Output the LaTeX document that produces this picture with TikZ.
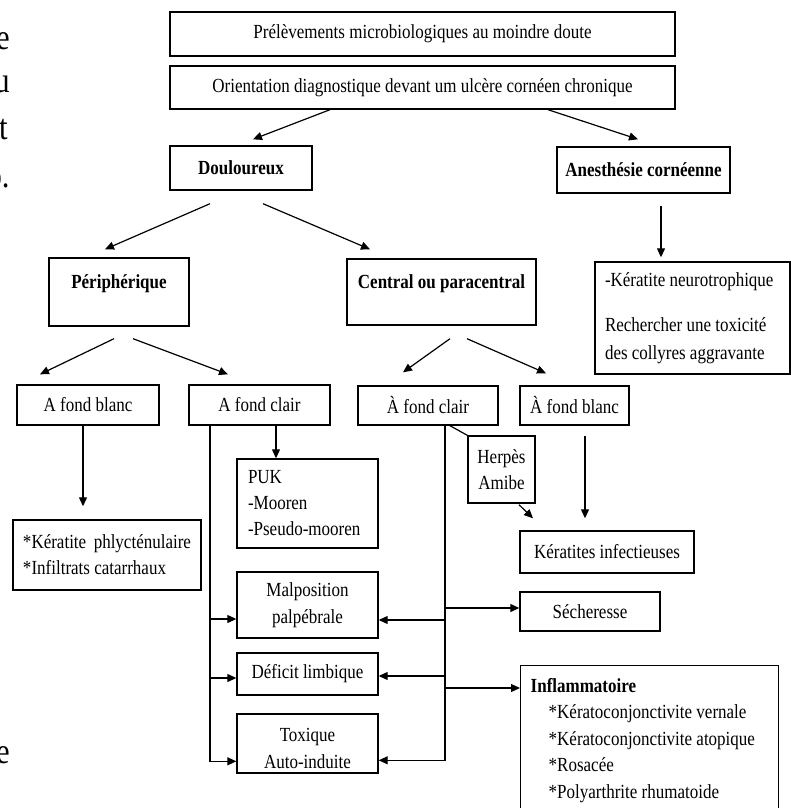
\documentclass[tikz,border=0pt]{standalone}
\usepackage{fontspec}
\setmainfont{Liberation Serif}[FakeStretch=0.85]
\usetikzlibrary{arrows.meta,calc}

\begin{document}
\begin{tikzpicture}[
  x=0.5pt, y=-0.5pt,
  font=\fontsize{10}{13}\selectfont,
  box/.style={draw, line width=0.7pt, inner sep=0pt, align=center},
  hbox/.style={box, font=\fontsize{10}{13}\selectfont\bfseries},
  lbox/.style={draw, line width=0.7pt, inner xsep=5pt, inner ysep=0pt, align=flush left},
  arr/.style={line width=0.6pt, -{Triangle[length=4.5pt, width=4pt]}},
  link/.style={line width=0.6pt},
  frag/.style={anchor=base east, inner sep=0pt, font=\fontsize{18}{20}\selectfont}
]
\useasboundingbox (0,0) rectangle (791,808);

% cut-off body text on the left
\node[frag] (fe) at (10,50) {e};
\node[frag] (fu) at (10,93) {u};
\node[frag] (ft) at (8,140) {t};
\node[frag] (fo) at (10,187) {o.};
\node[frag] (fe2) at (10,763) {e};

% top
\node[box, minimum width=252.5pt, minimum height=22pt] (prel) at (422.5,34) {Prélèvements microbiologiques au moindre doute};
\node[box, minimum width=252.5pt, minimum height=21.5pt] (orient) at (422.5,87.5) {Orientation diagnostique devant um ulcère cornéen chronique};
\node[hbox, minimum width=71pt, minimum height=22pt] (doul) at (241,168) {Douloureux};
\node[hbox, minimum width=86.5pt, minimum height=23pt] (anest) at (643.5,170) {Anesthésie cornéenne};
\node[lbox, inner xsep=5pt, text width=87.5pt, minimum height=56pt, font=\fontsize{10}{14}\selectfont] (neuro) at (692.5,318)
  {-Kératite neurotrophique\\[8.5pt]Rechercher une toxicité\\des collyres aggravante};

% second level
\node[hbox, minimum width=70pt, text height=15pt, text depth=19pt] (periph) at (119,292) {Périphérique};
\node[hbox, minimum width=94.5pt, text height=14.5pt, text depth=18.5pt] (central) at (441.5,292) {Central ou paracentral};

\node[box, minimum width=71pt, minimum height=20pt] (fbl) at (88,405) {A fond blanc};
\node[box, minimum width=70.5pt, minimum height=20pt] (fcl) at (259.5,405) {A fond clair};
\node[box, minimum width=70pt, minimum height=19.5pt] (fcl2) at (428,405.5) {À fond clair};
\node[box, minimum width=54.5pt, minimum height=19.5pt] (fbl2) at (574.5,405.5) {À fond blanc};

% causes
\node[lbox, inner xsep=5pt, text width=84pt, minimum height=35pt] (phlyc) at (107,555) {*Kératite\ \ phlycténulaire\\{}*Infiltrats catarrhaux};
\node[lbox, inner xsep=5.5pt, text width=59.5pt, minimum height=44.5pt] (puk) at (307.5,503.5) {PUK\\-Mooren\\-Pseudo-mooren};
\node[box, minimum width=33.5pt, minimum height=33.5pt] (herpes) at (501.5,469.5) {Herpès\\Amibe};
\node[box, minimum width=87pt, minimum height=21pt] (infect) at (607,552) {Kératites infectieuses};
\node[box, minimum width=70.5pt, minimum height=33pt, font=\fontsize{10}{13.5}\selectfont] (malpos) at (307.5,605) {Malposition\\palpébrale};
\node[box, minimum width=70.5pt, minimum height=21pt] (deficit) at (307.5,674) {Déficit limbique};
\node[box, minimum width=70.5pt, text height=27.3pt, text depth=2.2pt, font=\fontsize{10}{13.5}\selectfont] (toxique) at (307.5,743.5) {Toxique\\Auto-induite};
\node[box, minimum width=70pt, minimum height=19.5pt] (sech) at (590,611.5) {Sécheresse};
\node[lbox, anchor=north west, text width=119pt, text height=13.3pt, text depth=78pt, font=\fontsize{10}{13.25}\selectfont] (inflam) at (520,665)
  {\textbf{Inflammatoire}\\
   \hspace*{9pt}*Kératoconjonctivite vernale\\
   \hspace*{9pt}*Kératoconjonctivite atopique\\
   \hspace*{9pt}*Rosacée\\
   \hspace*{9pt}*Polyarthrite rhumatoide};

% arrows of the tree
\draw[arr] ($(orient.south)+(-92.5,0)$) -- ($(doul.north)+(12,-6)$);
\draw[arr] ($(orient.south)+(125.5,0)$) -- ($(anest.north)+(-5.5,-7)$);
\draw[arr] ($(anest.south)+(17.5,12)$) -- ($(neuro.north)+(-31.5,-4)$);
\draw[arr] ($(doul.south)+(-31,13)$) -- ($(periph.north)+(-14,-8)$);
\draw[arr] ($(doul.south)+(22,13)$) -- ($(central.north)+(-71.5,-9)$);
\draw[arr] ($(periph.south)+(-5,12)$) -- ($(fbl.north)+(-48,-10)$);
\draw[arr] ($(periph.south)+(14,12)$) -- ($(fcl.north)+(-31.5,-10)$);
\draw[arr] ($(central.south)+(8.5,13)$) -- ($(fcl2.north)+(-25,-13)$);
\draw[arr] ($(central.south)+(25.5,13)$) -- ($(fbl2.north)+(-28.5,-12)$);
\draw[arr] ($(fbl.south)+(-5,0)$) -- ($(phlyc.north)+(-24,-13)$);
\draw[arr] ($(fcl.south)+(16.5,0)$) -- ($(puk.north)+(-31.5,0)$);

% herpes / infectious
\draw[link] ($(fcl2.south)+(22,0)$) -- (herpes.north west);
\draw[arr] ($(herpes.south)+(17.5,1)$) -- ($(infect.north)+(-74,-12)$);
\draw[arr] ($(fbl2.south)+(10.5,10)$) -- ($(infect.north)+(-22,-12)$);

% trunks
\coordinate (ltop) at ($(fcl.south)+(-49.5,0)$);
\coordinate (rtop) at ($(fcl2.south)+(17,0)$);
\coordinate (mpL) at ($(malpos.west)+(0,14)$);
\coordinate (dfL) at ($(deficit.west)+(0,4)$);
\coordinate (txL) at ($(toxique.north west)+(0,48)$);
\coordinate (mpR) at ($(malpos.east)+(0,15)$);
\coordinate (dfR) at ($(deficit.east)+(0,2)$);
\coordinate (txR) at ($(toxique.north east)+(0,47)$);
\coordinate (scW) at ($(sech.west)+(0,-3.5)$);
\coordinate (ifW) at ($(inflam.north west)+(0,23)$);

\draw[arr] (ltop) |- (txL);
\draw[arr] (ltop |- mpL) -- (mpL);
\draw[arr] (ltop |- dfL) -- (dfL);
\draw[arr] (rtop) |- (txR);
\draw[arr] (rtop |- mpR) -- (mpR);
\draw[arr] (rtop |- dfR) -- (dfR);
\draw[arr] (rtop |- scW) -- (scW);
\draw[arr] (rtop |- ifW) -- (ifW);
\end{tikzpicture}
\end{document}
